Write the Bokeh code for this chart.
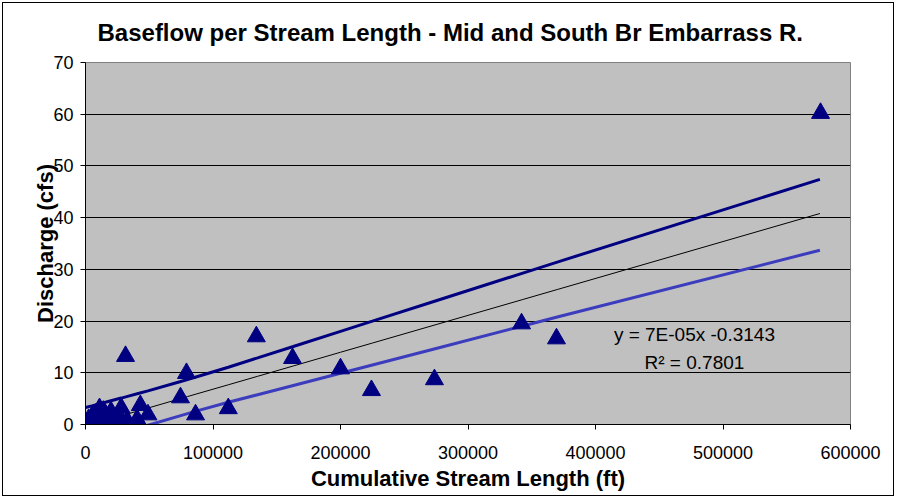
from bokeh.plotting import figure
from bokeh.models import Label, Range1d, FixedTicker, NumeralTickFormatter
from bokeh.embed import file_html
from bokeh.resources import INLINE

# Observed points: cumulative stream length (ft) vs discharge (cfs)
stream_length_ft = [0, 1000, 2000, 2500, 3000, 4000, 5000, 6000, 7000, 8000, 9000,
                    10000, 11000, 12000, 13000, 14000, 15000, 16000, 17000, 18000,
                    19000, 20000, 21000, 22000, 23000, 24000, 26000, 27000, 28000,
                    29000, 31400, 32500, 34000, 40500, 43000, 49000, 74500, 79200,
                    86300, 112000, 134000, 162400, 200000, 224300, 273700, 342000,
                    369400, 576500]
discharge_cfs = [0.0, 0.1, 0.3, 1.0, 0.5, 0.2, 1.5, 0.8, 0.4, 2.0, 1.0,
                 0.3, 3.1, 1.2, 0.6, 2.6, 0.2, 1.8, 0.9, 0.4,
                 1.3, 2.5, 1.4, 0.1, 0.7, 0.8, 1.6, 0.2, 3.2,
                 0.3, 13.2, 0.6, 0.2, 1.0, 3.7, 1.9, 5.2, 9.9,
                 1.9, 3.1, 17.0, 12.8, 10.8, 6.6, 8.7, 19.5,
                 16.6, 60.2]

# Trend line and band lines, read at the data x positions
band_x = [0, 5000, 12000, 20000, 28000, 33000, 42000, 49000, 74000, 80000,
          86000, 112000, 135000, 163000, 200000, 225000, 275000, 343000, 370000, 576000]
upper_band = [3.29, 3.61, 4.07, 4.59, 5.11, 5.44, 6.03, 6.51, 8.27, 8.70,
              9.13, 11.07, 12.88, 15.09, 18.02, 19.98, 23.93, 29.28, 31.41, 47.4]
trend_line = [-0.31, 0.04, 0.54, 1.11, 1.68, 2.04, 2.68, 3.18, 4.97, 5.40,
              5.83, 7.68, 9.32, 11.32, 13.97, 15.75, 19.32, 24.17, 26.10, 40.8]
lower_band = [-3.91, -3.53, -2.99, -2.37, -1.75, -1.36, -0.67, -0.15, 1.67, 2.10,
              2.53, 4.29, 5.76, 7.55, 9.92, 11.52, 14.71, 19.06, 20.79, 33.7]

x_ticks = [0, 100000, 200000, 300000, 400000, 500000, 600000]
y_ticks = [0, 10, 20, 30, 40, 50, 60, 70]

title_text = "Baseflow per Stream Length - Mid and South Br  Embarrass R."
equation_text = "y = 7E-05x -0.3143"
r2_text = "R\u00b2 = 0.7801"

FONT = "Liberation Sans"

p = figure(output_backend="svg", toolbar_location=None,
           frame_width=765, frame_height=362,
           min_border_left=85, min_border_right=46, min_border_top=62, min_border_bottom=74,
           x_range=Range1d(0, 600000), y_range=Range1d(0, 70),
           title=title_text)
p.styles = {"outline": "1px solid #000000", "outline-offset": "-3px",
            "background-color": "white"}

p.title.align = "left"
p.title.offset = 12
p.title.vertical_align = "middle"
p.title.text_font = FONT
p.title.text_font_style = "bold"
p.title.text_font_size = "24px"
p.title.text_color = "black"
p.title.standoff = 32

p.background_fill_color = "#C0C0C0"
p.border_fill_color = None
p.outline_line_color = "#808080"

p.xgrid.visible = False
p.ygrid.ticker = FixedTicker(ticks=y_ticks)
p.ygrid.grid_line_color = "black"
p.ygrid.grid_line_width = 1

for ax in (p.xaxis[0], p.yaxis[0]):
    ax.axis_line_color = "black"
    ax.major_tick_line_color = "black"
    ax.major_tick_in = 0
    ax.major_tick_out = 5
    ax.minor_tick_line_color = None
    ax.major_label_text_font = FONT
    ax.major_label_text_font_size = "18px"
    ax.major_label_text_color = "black"
    ax.axis_label_text_font = FONT
    ax.axis_label_text_font_style = "bold"
    ax.axis_label_text_font_size = "22px"
    ax.axis_label_text_color = "black"

p.xaxis.ticker = FixedTicker(ticks=x_ticks)
p.xaxis.formatter = NumeralTickFormatter(format="0")
p.xaxis.axis_label = "Cumulative Stream Length (ft)"
p.xaxis.major_label_standoff = 16
p.xaxis.axis_label_standoff = 4

p.yaxis.ticker = FixedTicker(ticks=y_ticks)
p.yaxis.axis_label = "Discharge (cfs)"
p.yaxis.major_label_standoff = 7
p.yaxis.axis_label_standoff = -8

p.line(band_x, upper_band, line_color="#000080", line_width=3)
p.line(band_x, trend_line, line_color="black", line_width=1)
p.line(band_x, lower_band, line_color="#3C3CBE", line_width=3)

p.scatter(stream_length_ft, discharge_cfs, marker="triangle", size=18,
          fill_color="#000080", line_color="#000080")

p.add_layout(Label(x=477600, y=17.4, text=equation_text, text_align="center",
                   text_baseline="middle", text_font=FONT, text_font_size="19px",
                   text_color="black"))
p.add_layout(Label(x=477600, y=11.9, text=r2_text, text_align="center",
                   text_baseline="middle", text_font=FONT, text_font_size="19px",
                   text_color="black"))

open("out.html", "w").write(file_html(p, INLINE))
